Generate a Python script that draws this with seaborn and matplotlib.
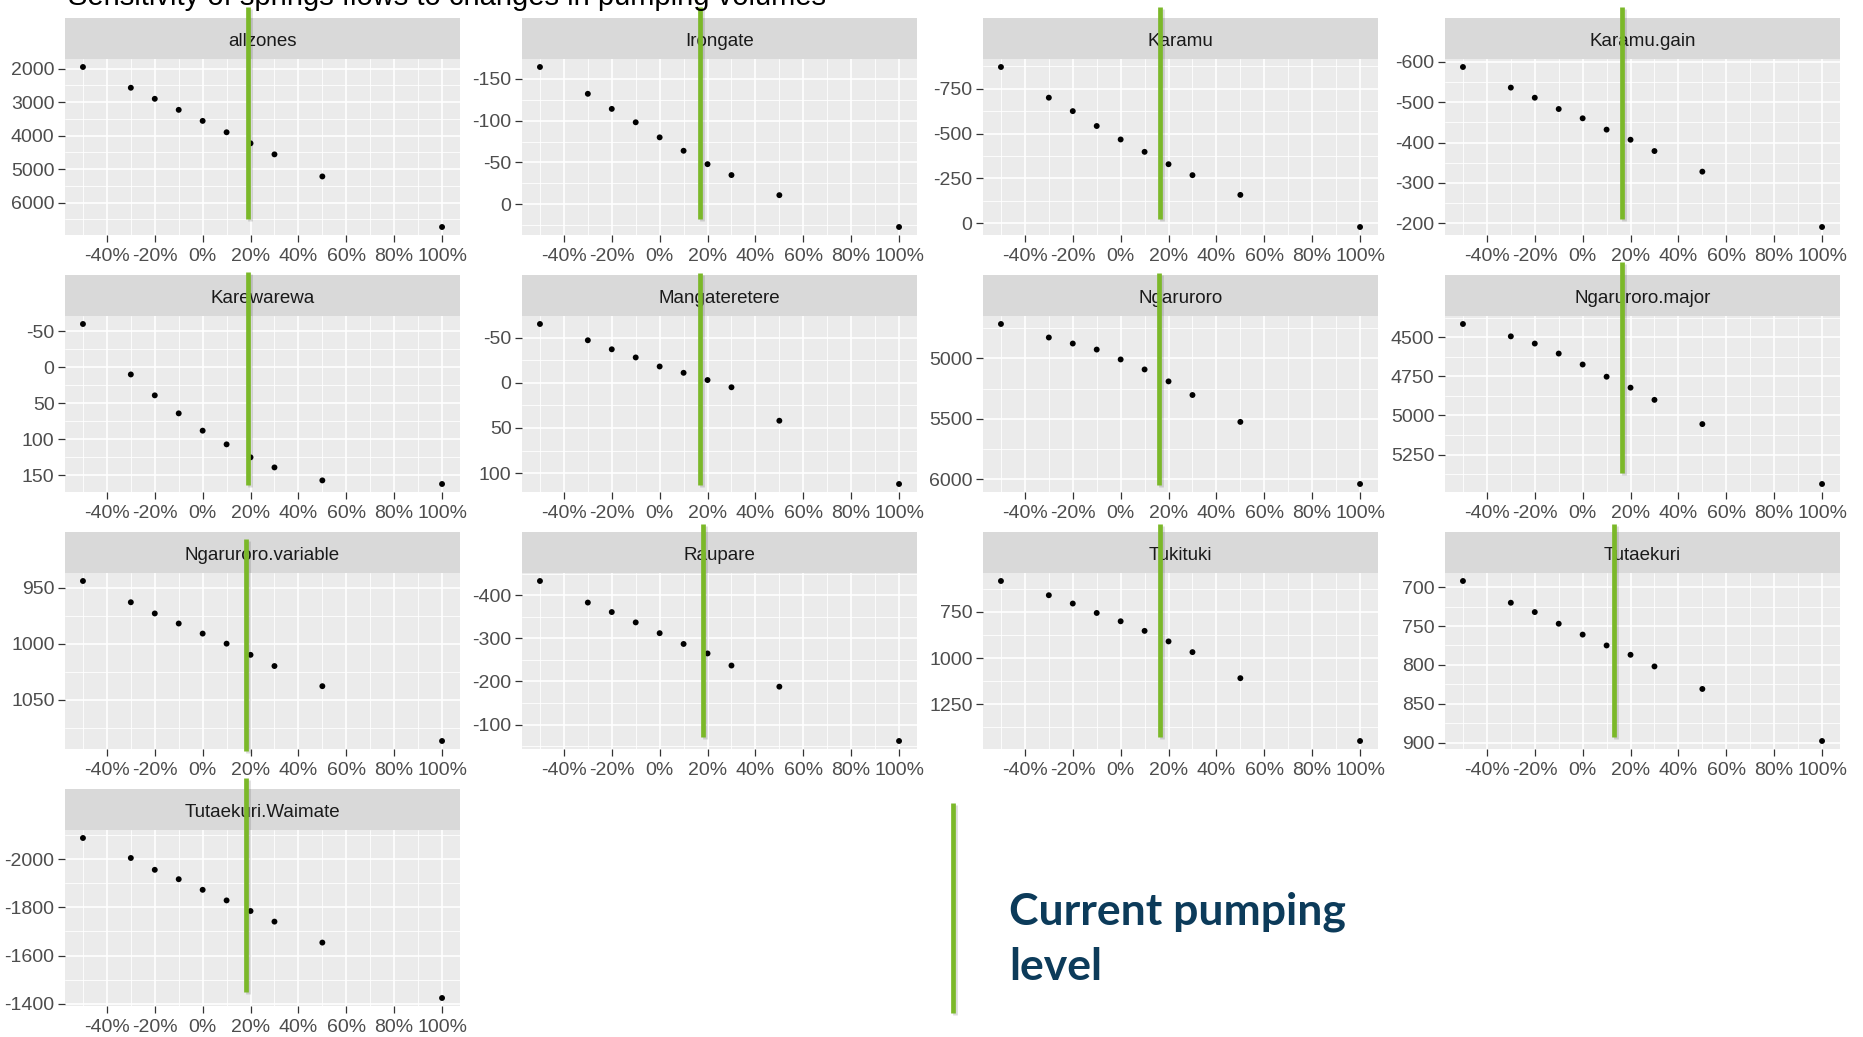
import matplotlib
matplotlib.use("Agg")
import matplotlib.pyplot as plt
import matplotlib.patheffects as pe
from matplotlib.patches import Rectangle
from matplotlib.lines import Line2D
from matplotlib.ticker import FixedLocator, AutoMinorLocator, FuncFormatter
import numpy as np
import pandas as pd
import seaborn as sns

# change in pumping volume (%)
pump_change = [-50, -30, -20, -10, 0, 10, 20, 30, 50, 100]
x_breaks = [-40, -20, 0, 20, 40, 60, 80, 100]
x_minor = [-50, -30, -10, 10, 30, 50, 70, 90]

zones = ["allzones", "Irongate", "Karamu", "Karamu.gain",
         "Karewarewa", "Mangateretere", "Ngaruroro", "Ngaruroro.major",
         "Ngaruroro.variable", "Raupare", "Tukituki", "Tutaekuri",
         "Tutaekuri.Waimate"]

# spring flow per zone
allzones = [1950, 2570, 2900, 3230, 3560, 3900, 4230, 4560, 5220, 6730]
irongate = [-164, -132, -114, -98, -80, -64, -48, -35, -11, 27]
karamu = [-871, -700, -625, -542, -467, -398, -329, -268, -158, 21]
karamu_gain = [-587, -536, -511, -483, -460, -432, -407, -379, -328, -191]
karewarewa = [-60, 10, 39, 64, 88, 107, 125, 139, 157, 162]
mangateretere = [-65, -47, -37, -28, -18, -11, -3, 5, 42, 112]
ngaruroro = [4714, 4826, 4876, 4926, 5008, 5091, 5190, 5303, 5526, 6041]
ngaruroro_major = [4415, 4494, 4540, 4604, 4674, 4752, 4822, 4900, 5055, 5438]
ngaruroro_variable = [944, 963, 973, 982, 991, 1000, 1010, 1020, 1038, 1087]
raupare = [-433, -383, -361, -337, -312, -287, -265, -237, -188, -62]
tukituki = [583, 660, 705, 756, 801, 853, 910, 968, 1109, 1449]
tutaekuri = [692, 720, 732, 747, 761, 775, 787, 802, 831, 898]
tutaekuri_waimate = [-2088, -2005, -1956, -1917, -1873, -1829, -1785, -1741, -1654, -1424]

y_breaks = [[2000, 3000, 4000, 5000, 6000],
            [-150, -100, -50, 0],
            [-750, -500, -250, 0],
            [-600, -500, -400, -300, -200],
            [-50, 0, 50, 100, 150],
            [-50, 0, 50, 100],
            [5000, 5500, 6000],
            [4500, 4750, 5000, 5250],
            [950, 1000, 1050],
            [-400, -300, -200, -100],
            [750, 1000, 1250],
            [700, 750, 800, 850, 900],
            [-2000, -1800, -1600, -1400]]

# current pumping level marked on each panel (%)
current_level = [19, 17, 16.5, 16.5, 19, 17, 16, 16.5, 18, 18, 16.5, 13.2, 18]

flows = [allzones, irongate, karamu, karamu_gain, karewarewa, mangateretere,
         ngaruroro, ngaruroro_major, ngaruroro_variable, raupare, tukituki,
         tutaekuri, tutaekuri_waimate]

df = pd.DataFrame({
    "zone": np.repeat(zones, len(pump_change)),
    "change": pump_change * len(zones),
    "flow": np.concatenate(flows),
})

sns.set_theme(style="darkgrid", rc={"axes.facecolor": "#EBEBEB",
                                    "grid.color": "white",
                                    "axes.unicode_minus": False})
plt.rcParams["font.family"] = ["Liberation Sans", "DejaVu Sans"]

W, H = 1863, 1037
GREEN = "#7bb829"
fig = plt.figure(figsize=(W / 100, H / 100), dpi=100)
fig.patch.set_facecolor("white")

col_left = [65, 522, 983, 1445]
panel_w, panel_h, strip_h, row_step = 395, 176, 41, 257
# vertical reach of the hand-drawn marker, in axes fraction
marker_span = [(0.09, 1.295), (0.09, 1.295), (0.09, 1.295), (0.09, 1.295),
               (0.04, 1.25), (0.04, 1.244), (0.04, 1.244), (0.108, 1.307),
               (-0.01, 1.193), (0.068, 1.278), (0.068, 1.278), (0.068, 1.278),
               (0.08, 1.295)]

for i, zone in enumerate(zones):
    r, c = divmod(i, 4)
    top = 59 + row_step * r
    ax = fig.add_axes([col_left[c] / W, 1 - (top + panel_h) / H,
                       panel_w / W, panel_h / H])
    sub = df[df["zone"] == zone]
    sns.scatterplot(data=sub, x="change", y="flow", ax=ax, color="black",
                    s=18, edgecolor="none", zorder=3)

    lo, hi = sub["flow"].min(), sub["flow"].max()
    pad = (hi - lo) * 0.05
    ax.set_ylim(hi + pad, lo - pad)
    ax.set_xlim(-57.5, 107.5)

    ax.xaxis.set_major_locator(FixedLocator(x_breaks))
    ax.xaxis.set_minor_locator(FixedLocator(x_minor))
    ax.yaxis.set_major_locator(FixedLocator(y_breaks[i]))
    ax.yaxis.set_minor_locator(AutoMinorLocator(2))
    ax.xaxis.set_major_formatter(FuncFormatter(lambda v, p: f"{v:.0f}%"))
    ax.yaxis.set_major_formatter(FuncFormatter(lambda v, p: f"{v:.0f}"))
    ax.grid(which="major", color="white", lw=1.2)
    ax.grid(which="minor", color="white", lw=0.6)
    ax.tick_params(which="major", length=5, width=0.9, color="#333333",
                   labelsize=14, labelcolor="#4D4D4D", pad=2.5,
                   bottom=True, left=True)
    ax.tick_params(axis="x", which="major", pad=4.5)
    ax.tick_params(which="minor", length=0)
    ax.set_xlabel("")
    ax.set_ylabel("")
    for s in ax.spines.values():
        s.set_visible(False)

    # facet strip
    ax.add_patch(Rectangle((0, 1), 1, strip_h / panel_h, transform=ax.transAxes,
                           facecolor="#D9D9D9", edgecolor="none", clip_on=False,
                           zorder=1))
    ax.text(0.5, 1 + 17.5 / panel_h, zone, transform=ax.transAxes,
            ha="center", va="center", fontsize=13.5, color="#1A1A1A", zorder=2)

    ymin, ymax = marker_span[i]
    ax.axvline(current_level[i], ymin=ymin, ymax=ymax, color=GREEN, lw=3.4,
               clip_on=False, zorder=6, solid_capstyle="butt",
               path_effects=[pe.SimpleLineShadow(offset=(1.5, -1.5), alpha=0.15),
                             pe.Normal()])

# title sits partly above the top edge, as in the slide
fig.text(68 / W, 1 - 5 / H,
         "Sensitivity of springs flows to changes in pumping volumes",
         fontsize=21, va="baseline", ha="left", color="black")

# legend for the marker
fig.add_artist(Line2D([953 / W, 953 / W], [1 - 803 / H, 1 - 1013 / H],
                      color=GREEN, lw=3.4, solid_capstyle="butt",
                      path_effects=[pe.SimpleLineShadow(offset=(1.5, -1.5), alpha=0.15),
                                    pe.Normal()]))
fig.text(1009 / W, 1 - 924 / H, "Current pumping", fontsize=32,
         fontweight="bold", family=["Lato", "DejaVu Sans"], color="#0c3b5a",
         va="baseline", ha="left")
fig.text(1009 / W, 1 - 980 / H, "level", fontsize=32,
         fontweight="bold", family=["Lato", "DejaVu Sans"], color="#0c3b5a",
         va="baseline", ha="left")

fig.savefig("out.png", dpi=100, facecolor="white")
